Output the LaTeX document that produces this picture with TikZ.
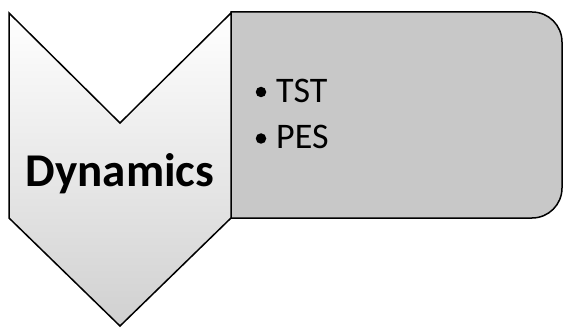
\documentclass[tikz,border=0pt]{standalone}
\usepackage{fontspec}
\setmainfont{Carlito}
\begin{document}
\begin{tikzpicture}[x=1pt,y=-1pt,
  outline/.style={draw=black,line width=1.5pt,line join=miter},
  itemtext/.style={font=\fontsize{36}{42}\selectfont,anchor=base west,inner sep=0pt},
  bulletdot/.style={circle,fill=black,inner sep=0pt,minimum size=10.5pt}]
\useasboundingbox (0,0) rectangle (563,329);
% right box
\path[outline,fill={rgb,255:red,200;green,200;blue,200}]
  (231,12) -- (532,12) .. controls (548.6,12) and (562,25.4) .. (562,42)
  -- (562,188) .. controls (562,204.6) and (548.6,218) .. (532,218)
  -- (231,218) -- cycle;
% chevron
\path[outline,top color=white,bottom color={rgb,255:red,208;green,208;blue,208},middle color={rgb,255:red,232;green,232;blue,232}]
  (9,13) -- (120,123) -- (231,13) -- (231,218) -- (120,326) -- (9,218) -- cycle;
\node[font=\bfseries\fontsize{47}{54}\selectfont,anchor=base,inner sep=0pt] (dyn) at (120,186) {Dynamics};
\node[bulletdot] (b1) at (261,92) {};
\node[bulletdot] (b2) at (261,138.5) {};
\node[itemtext] (tst) at (276,102.5) {TST};
\node[itemtext] (pes) at (276,149) {PES};
\end{tikzpicture}
\end{document}
